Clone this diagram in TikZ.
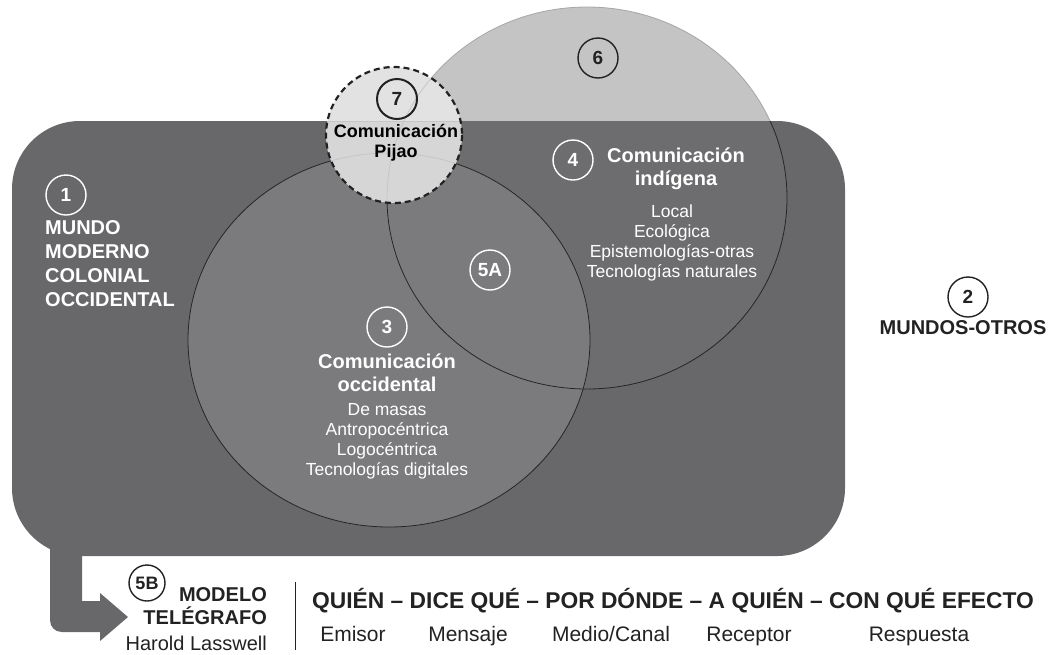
\documentclass[tikz,border=0pt]{standalone}
\usepackage{fontspec}
\setmainfont{Liberation Sans}
\tikzset{>=latex}
\definecolor{worldgray}{HTML}{68686B}
\definecolor{occgray}{HTML}{7B7B7E}
\definecolor{othergray}{HTML}{C4C4C4}
\definecolor{pijaogray}{HTML}{E2E2E2}
\definecolor{ink}{HTML}{222222}

\begin{document}
\begin{tikzpicture}[x=1pt, y=-1pt, inner sep=0pt,
    numw/.style={circle, draw=white, line width=1.4pt, text=white, minimum size=40pt, font=\bfseries\fontsize{19}{19}\selectfont},
    numk/.style={numw, draw=ink, text=ink},
    ttl/.style={align=center, font=\bfseries\fontsize{20}{23}\selectfont},
    lst/.style={align=center, font=\fontsize{17.5}{20}\selectfont},
    role/.style={anchor=base, text=ink, font=\fontsize{21}{21}\selectfont}]
    \useasboundingbox (0,0) rectangle (1056,654);
    % mundos-otros circle and the western world
    \fill[othergray] (587,198) ellipse [x radius=200, y radius=191];
    \draw[gray!70, line width=.8pt] (587,198) ellipse [x radius=200, y radius=191];
    \fill[worldgray, rounded corners=68pt] (12,121) rectangle (845,556);
    \fill[worldgray] (82,540) -- (50,540) -- (50,620) .. controls (50,627) and (55,632) .. (62,632)
        -- (100,632) -- (100,641) -- (128,617) -- (100,593) -- (100,601) -- (82,601) -- cycle;
    \begin{scope}
        \clip[rounded corners=68pt] (12,121) rectangle (845,556);
        \fill[white, opacity=.04] (587,198) ellipse [x radius=200, y radius=191];
    \end{scope}
    \fill[occgray] (389,340) ellipse [x radius=201, y radius=187];
    \draw[black!85, line width=.8pt] (389,340) ellipse [x radius=201, y radius=187];
    \begin{scope}
        \clip[rounded corners=68pt] (12,121) rectangle (845,556);
        \draw[black!85, line width=.8pt] (587,198) ellipse [x radius=200, y radius=191];
    \end{scope}
    % pijao, with the other outlines showing faintly through it
    \fill[pijaogray] (394,135) circle (68);
    \begin{scope}
        \clip (394,135) circle (68);
        \fill[black, opacity=.05, rounded corners=68pt] (12,121) rectangle (845,556);
        \draw[gray!45, line width=.8pt] (12,121) -- (845,121);
        \draw[gray!45, line width=.8pt] (389,340) ellipse [x radius=201, y radius=187];
        \draw[gray!45, line width=.8pt] (587,198) ellipse [x radius=200, y radius=191];
    \end{scope}
    \draw[ink, line width=2.2pt, dash pattern=on 6pt off 4pt] (394,135) circle (68);

    \node[numw] (n1) at (66,195) {1};
    \node[ttl, text=white, align=left, anchor=west, font=\bfseries\fontsize{20}{24}\selectfont] (mundo) at (45,264) {MUNDO\\MODERNO\\COLONIAL\\OCCIDENTAL};
    \node[numk] (n2) at (968,297) {2};
    \node[ttl, text=ink] (otros) at (963,328) {MUNDOS-OTROS};
    \node[numw] (n3) at (387,327) {3};
    \node[ttl, text=white] (occ) at (387,373) {Comunicación\\occidental};
    \node[lst, text=white] (occlist) at (387,441) {De masas\\Antropocéntrica\\Logocéntrica\\Tecnologías digitales};
    \node[numw] (n4) at (573,160) {4};
    \node[ttl, text=white] (ind) at (676,169) {Comunicación\\indígena};
    \node[lst, text=white] (indlist) at (672,243) {Local\\Ecológica\\Epistemologías-otras\\Tecnologías naturales};
    \node[numw] (n5a) at (490,270) {5A};
    \node[numk] (n6) at (598,58) {6};
    \node[numk, line width=2pt] (n7) at (397,99) {7};
    \node[ttl, text=black, font=\bfseries\fontsize{18}{20}\selectfont] (pijao) at (396,143) {Comunicación\\Pijao};

    % modelo telegrafo
    \node[numk, minimum size=36pt, font=\bfseries\fontsize{18}{18}\selectfont] (n5b) at (147,583) {5B};
    \node[ttl, text=ink, align=right, anchor=east, font=\bfseries\fontsize{20}{23}\selectfont] (modelo) at (267,606) {MODELO\\TELÉGRAFO};
    \node[role, anchor=base east, font=\fontsize{20}{20}\selectfont] (lasswell) at (267,650) {Harold Lasswell};
    \draw[ink, line width=1pt] (295,582) -- (295,650);
    \node[anchor=base west, text=ink, font=\bfseries\fontsize{22.8}{24}\selectfont] (quien) at (312,608) {QUIÉN – DICE QUÉ – POR DÓNDE – A QUIÉN – CON QUÉ EFECTO};
    \node[role] (emisor) at (353,641) {Emisor};
    \node[role] (mensaje) at (468,641) {Mensaje};
    \node[role] (medio) at (611,641) {Medio/Canal};
    \node[role] (receptor) at (749,641) {Receptor};
    \node[role] (respuesta) at (919,641) {Respuesta};
\end{tikzpicture}
\end{document}
